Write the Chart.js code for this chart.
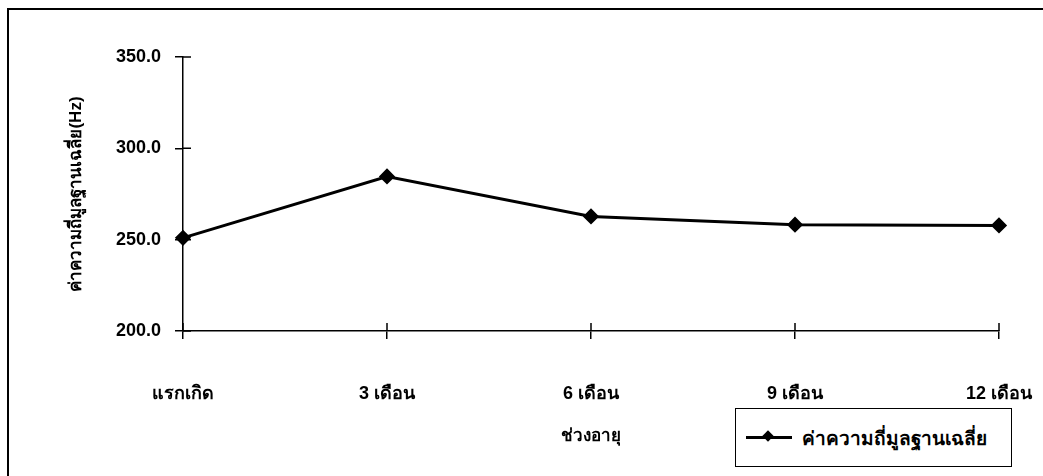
<!DOCTYPE html>
<html>
<head>
<meta charset="utf-8">
<script src="https://cdn.jsdelivr.net/npm/chart.js@4"></script>
<style>
  html, body { margin: 0; background: #fff; overflow: hidden; }
  #wrap { position: relative; width: 1043px; height: 476px; overflow: hidden; }
  #chart { position: absolute; left: 0; top: 0; }
  #legend { position: absolute; left: 735px; top: 408px; width: 277px; height: 59px;
            border: 1.5px solid #000; box-sizing: border-box; background: #fff;
            display: flex; align-items: center; padding-left: 10px;
            font: bold 19px "Liberation Sans", Arial, sans-serif; color: #000; }
  #legend .mark { position: relative; width: 46px; height: 3px; background: #000; margin-right: 10px; }
  #legend .mark i { position: absolute; left: 18px; top: -4px; width: 8px; height: 8px;
                    background: #000; transform: rotate(45deg); }
</style>
</head>
<body>
<div id="wrap">
  <canvas id="chart" width="1043" height="476"></canvas>
  <div id="legend"></div>
</div>
<script>
const categories = ['แรกเกิด', '3 เดือน', '6 เดือน', '9 เดือน', '12 เดือน'];
const seriesName = 'ค่าความถี่มูลฐานเฉลี่ย';
const seriesValues = [251.0, 284.6, 262.7, 258.2, 257.8];
const yTicks = [200, 250, 300, 350];
const xTitle = 'ช่วงอายุ';
const yTitle = 'ค่าความถี่มูลฐานเฉลี่ย(Hz)';

const font = '"Liberation Sans", Arial, sans-serif';

// outer frame (only left and top edges are inside the picture)
const frame = {
    id: 'frame',
    beforeDraw(chart) {
        const c = chart.ctx;
        c.save();
        c.strokeStyle = '#000';
        c.lineWidth = 2;
        c.beginPath();
        c.moveTo(8, chart.height);
        c.lineTo(8, 9);
        c.lineTo(chart.width, 9);
        c.stroke();
        c.restore();
    }
};

// tick marks that cross the axis line (inner half drawn here)
const crossTicks = {
    id: 'crossTicks',
    afterDraw(chart) {
        const c = chart.ctx;
        const xs = chart.scales.x, ys = chart.scales.y;
        c.save();
        c.strokeStyle = '#000';
        c.lineWidth = 1.5;
        c.beginPath();
        ys.ticks.forEach((t, i) => {
            const y = ys.getPixelForTick(i);
            c.moveTo(xs.left, y);
            c.lineTo(xs.left + 8, y);
        });
        xs.ticks.forEach((t, i) => {
            const x = xs.getPixelForTick(i);
            c.moveTo(x, ys.bottom);
            c.lineTo(x, ys.bottom - 8);
        });
        c.stroke();
        c.restore();
    }
};

const ctx = document.getElementById('chart').getContext('2d');
const chart = new Chart(ctx, {
    type: 'line',
    data: {
        labels: categories,
        datasets: [{
            label: seriesName,
            data: seriesValues,
            borderColor: '#000',
            backgroundColor: '#000',
            borderWidth: 3,
            pointStyle: 'rectRot',
            pointRadius: 6,
            tension: 0,
            fill: false
        }]
    },
    options: {
        responsive: false,
        animation: false,
        layout: { padding: { top: 57, right: 44, left: 0, bottom: 0 } },
        plugins: {
            legend: { display: false },
            tooltip: { enabled: false }
        },
        scales: {
            x: {
                afterFit(s) { s.height = 145; s.paddingLeft = 0; s.paddingRight = 0; },
                grid: { drawOnChartArea: false, color: '#000', tickLength: 8, lineWidth: 1.5 },
                border: { color: '#000', width: 1.5 },
                ticks: { color: '#000', padding: 44, maxRotation: 0, font: { family: font, size: 18, weight: 'bold' } },
                title: { display: true, text: xTitle, color: '#000', padding: { bottom: 29 },
                         font: { family: font, size: 17, weight: 'bold' } }
            },
            y: {
                min: 200,
                max: 350,
                afterFit(s) { s.width = 183; s.paddingTop = 0; s.paddingBottom = 0; },
                afterBuildTicks(s) { s.ticks = yTicks.map(v => ({ value: v })); },
                grid: { drawOnChartArea: false, color: '#000', tickLength: 8, lineWidth: 1.5 },
                border: { color: '#000', width: 1.5 },
                ticks: { color: '#000', padding: 14, font: { family: font, size: 18, weight: 'bold' },
                         callback: v => Number(v).toFixed(1) },
                title: { display: true, text: yTitle, color: '#000', padding: { top: 66 },
                         font: { family: font, size: 17, weight: 'bold' } }
            }
        }
    },
    plugins: [frame, crossTicks]
});

// HTML legend built from the dataset
document.getElementById('legend').innerHTML =
    '<span class="mark"><i></i></span><span>' + chart.data.datasets[0].label + '</span>';
</script>
</body>
</html>
